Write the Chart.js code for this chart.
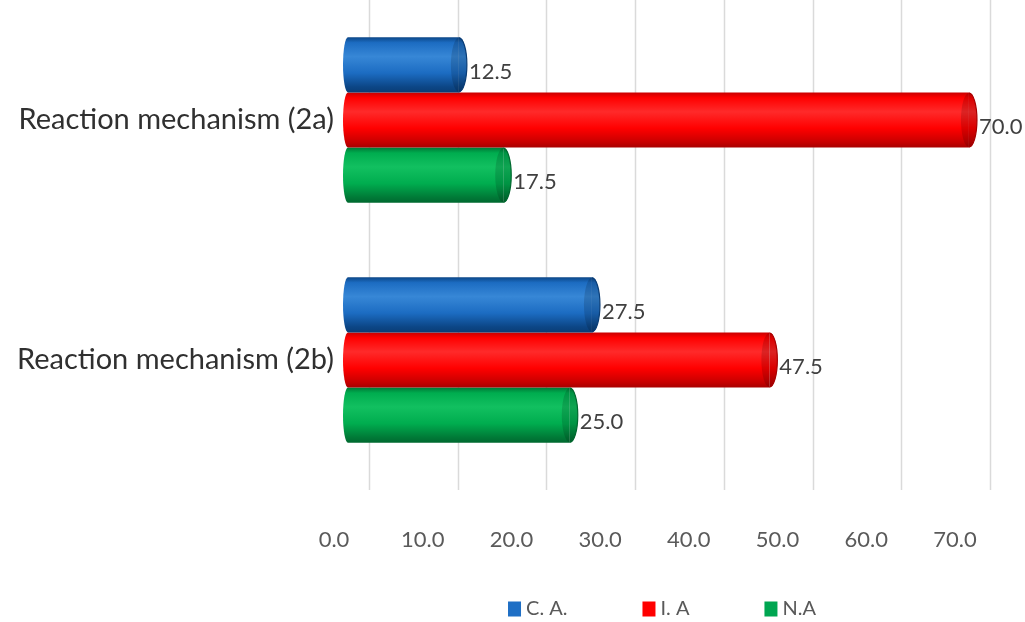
<!DOCTYPE html>
<html>
<head>
<meta charset="utf-8">
<script src="https://cdn.jsdelivr.net/npm/chart.js@4.4.0/dist/chart.umd.min.js"></script>
<style>
  html, body { margin: 0; padding: 0; background: #ffffff; }
  canvas { display: block; }
</style>
</head>
<body>
<canvas id="chart" width="1025" height="622"></canvas>
<script>
// Chart data
const categories = ['Reaction mechanism (2a)', 'Reaction mechanism (2b)'];
const seriesNames = ['C. A.', 'I. A', 'N.A'];
const caValues = [12.5, 27.5];
const iaValues = [70.0, 47.5];
const naValues = [17.5, 25.0];
const xTickValues = [0, 10, 20, 30, 40, 50, 60, 70];

// Cylinder shading per series: edge, body, highlight, end-cap rim
const shades = [
  { base: '#1c6cc2', light: '#3787d6', dark: '#0c4686', rim: '#0a3d76', key: '#1f6fc5' },
  { base: '#ff0000', light: '#ff2a2a', dark: '#c80000', rim: '#a80000', key: '#ff0000' },
  { base: '#00ad4f', light: '#12c060', dark: '#007a37', rim: '#00682f', key: '#00a651' }
];

function bodyGradient(ctx, el, c) {
  const top = el.y - el.height / 2;
  const bot = el.y + el.height / 2;
  const g = ctx.createLinearGradient(0, top, 0, bot);
  g.addColorStop(0, c.dark);
  g.addColorStop(0.1, c.base);
  g.addColorStop(0.35, c.light);
  g.addColorStop(0.65, c.base);
  g.addColorStop(0.9, c.dark);
  g.addColorStop(1, c.rim);
  return g;
}

// Vertical grid lines on the back wall, set back from the bars
const backWallGrid = {
  id: 'backWallGrid',
  beforeDatasetsDraw(chart) {
    const { ctx, chartArea } = chart;
    const x = chart.scales.x;
    ctx.save();
    ctx.strokeStyle = '#dadada';
    ctx.lineWidth = 1.5;
    xTickValues.forEach(v => {
      const px = Math.round(x.getPixelForValue(v)) + 21.5;
      ctx.beginPath();
      ctx.moveTo(px, chartArea.top);
      ctx.lineTo(px, chartArea.bottom + 10);
      ctx.stroke();
    });
    ctx.restore();
  }
};

// Shaded cylinder bodies with rounded ends
const cylinders = {
  id: 'cylinders',
  beforeDatasetsDraw(chart) {
    const ctx = chart.ctx;
    chart.data.datasets.forEach((ds, di) => {
      const c = shades[di];
      chart.getDatasetMeta(di).data.forEach(el => {
        el.options = Object.assign({}, el.options, { backgroundColor: bodyGradient(ctx, el, c) });
      });
    });
  },
  afterDatasetsDraw(chart) {
    const ctx = chart.ctx;
    chart.data.datasets.forEach((ds, di) => {
      const c = shades[di];
      chart.getDatasetMeta(di).data.forEach(el => {
        const ry = el.height / 2;
        const cy = el.y;
        const fill = bodyGradient(ctx, el, c);
        ctx.save();
        // rounded base end
        ctx.beginPath();
        ctx.ellipse(el.base, cy, 5, ry, 0, Math.PI / 2, Math.PI * 1.5);
        ctx.fillStyle = fill;
        ctx.fill();
        // rounded far end
        ctx.beginPath();
        ctx.ellipse(el.x, cy, 8, ry, 0, -Math.PI / 2, Math.PI / 2);
        ctx.fillStyle = fill;
        ctx.fill();
        // darker end face
        ctx.beginPath();
        ctx.ellipse(el.x, cy, 8, ry - 0.5, 0, 0, Math.PI * 2);
        ctx.fillStyle = 'rgba(0,0,0,0.14)';
        ctx.fill();
        ctx.lineWidth = 1.2;
        ctx.strokeStyle = c.rim;
        ctx.beginPath();
        ctx.ellipse(el.x, cy, 8, ry - 0.6, 0, -Math.PI / 2, Math.PI / 2);
        ctx.stroke();
        ctx.restore();
      });
    });
  }
};

// Value labels at the end of each bar
const valueLabels = {
  id: 'valueLabels',
  afterDatasetsDraw(chart) {
    const ctx = chart.ctx;
    ctx.save();
    ctx.font = '22px Lato';
    ctx.fillStyle = '#404040';
    ctx.textAlign = 'left';
    ctx.textBaseline = 'middle';
    chart.data.datasets.forEach((ds, di) => {
      chart.getDatasetMeta(di).data.forEach((el, i) => {
        ctx.fillText(Number(ds.data[i]).toFixed(1), el.x + 10, el.y + 7);
      });
    });
    ctx.restore();
  }
};

// Legend row under the axis
const bottomLegend = {
  id: 'bottomLegend',
  afterDraw(chart) {
    const ctx = chart.ctx;
    const gap = 75, box = 13, boxH = 15, textGap = 5;
    ctx.save();
    ctx.font = '20px Lato';
    ctx.textBaseline = 'middle';
    ctx.textAlign = 'left';
    const widths = chart.data.datasets.map(ds => box + textGap + ctx.measureText(ds.label).width);
    const total = widths.reduce((a, b) => a + b, 0) + gap * (widths.length - 1);
    let x = 662 - total / 2;
    const cy = 609;
    chart.data.datasets.forEach((ds, di) => {
      ctx.fillStyle = shades[di].key;
      ctx.fillRect(x, cy - boxH / 2, box, boxH);
      ctx.fillStyle = '#595959';
      ctx.fillText(ds.label, x + box + textGap, cy);
      x += widths[di] + gap;
    });
    ctx.restore();
  }
};

function draw() {
  new Chart(document.getElementById('chart'), {
    type: 'bar',
    data: {
      labels: categories,
      datasets: [
        { label: seriesNames[0], data: caValues, backgroundColor: shades[0].base },
        { label: seriesNames[1], data: iaValues, backgroundColor: shades[1].base },
        { label: seriesNames[2], data: naValues, backgroundColor: shades[2].base }
      ]
    },
    options: {
      indexAxis: 'y',
      responsive: false,
      animation: false,
      events: [],
      datasets: {
        bar: { categoryPercentage: 0.69, barPercentage: 1.0, borderWidth: 0, borderSkipped: false }
      },
      layout: { padding: { left: 0, right: 25, top: 0, bottom: 38 } },
      plugins: {
        legend: { display: false },
        tooltip: { enabled: false }
      },
      scales: {
        x: {
          min: 0,
          max: 73.5,
          grid: { display: false },
          border: { display: false },
          afterBuildTicks(s) { s.ticks = xTickValues.map(v => ({ value: v })); },
          ticks: {
            callback: v => Number(v).toFixed(1),
            font: { family: 'Lato', size: 22 },
            color: '#5a5a5a',
            padding: 39,
            labelOffset: -14,
            maxRotation: 0
          },
          afterFit(s) { s.height = 104; s.paddingLeft = 0; s.paddingRight = 0; }
        },
        y: {
          grid: { display: false },
          border: { display: false },
          ticks: {
            font: { family: 'Lato', size: 29 },
            color: '#303030',
            padding: 6
          },
          afterFit(s) { s.width = 348; s.paddingTop = 0; s.paddingBottom = 0; }
        }
      }
    },
    plugins: [backWallGrid, cylinders, valueLabels, bottomLegend]
  });
}

if (document.fonts && document.fonts.load) {
  Promise.all([document.fonts.load('29px Lato'), document.fonts.load('22px Lato')]).then(draw, draw);
} else {
  draw();
}
</script>
</body>
</html>
